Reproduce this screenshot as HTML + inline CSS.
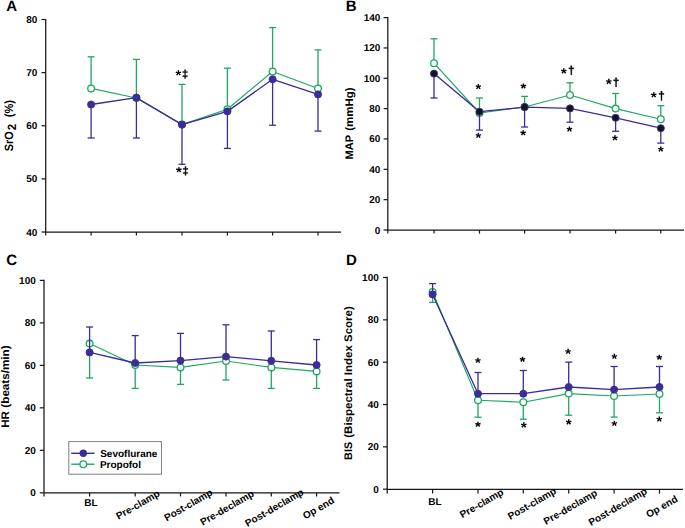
<!DOCTYPE html>
<html><head><meta charset="utf-8"><style>
html,body{margin:0;padding:0;background:#fff;width:685px;height:528px;overflow:hidden}
svg{display:block}
text{font-family:"Liberation Sans",sans-serif;font-weight:bold;text-rendering:geometricPrecision}
</style></head><body>
<svg width="685" height="528" viewBox="0 0 685 528" fill="#000">
<rect width="685" height="528" fill="#fff"/>
<text x='6.20' y='10.70' font-size='15' text-anchor='start' >A</text>
<text x='345.80' y='10.70' font-size='15' text-anchor='start' >B</text>
<text x='6.20' y='265.30' font-size='15' text-anchor='start' >C</text>
<text x='346.00' y='265.30' font-size='15' text-anchor='start' >D</text>
<line x1='45.70' y1='18.90' x2='45.70' y2='232.00' stroke='#161616' stroke-width='1.25' stroke-linecap='butt'/>
<line x1='45.10' y1='232.00' x2='341.00' y2='232.00' stroke='#161616' stroke-width='1.25' stroke-linecap='butt'/>
<line x1='41.50' y1='19.50' x2='45.70' y2='19.50' stroke='#161616' stroke-width='1.2' stroke-linecap='butt'/>
<text x='37.27' y='23.00' font-size='10' text-anchor='end' >80</text>
<line x1='41.50' y1='72.62' x2='45.70' y2='72.62' stroke='#161616' stroke-width='1.2' stroke-linecap='butt'/>
<text x='37.27' y='76.12' font-size='10' text-anchor='end' >70</text>
<line x1='41.50' y1='125.75' x2='45.70' y2='125.75' stroke='#161616' stroke-width='1.2' stroke-linecap='butt'/>
<text x='37.27' y='129.25' font-size='10' text-anchor='end' >60</text>
<line x1='41.50' y1='178.88' x2='45.70' y2='178.88' stroke='#161616' stroke-width='1.2' stroke-linecap='butt'/>
<text x='37.27' y='182.38' font-size='10' text-anchor='end' >50</text>
<line x1='41.50' y1='232.00' x2='45.70' y2='232.00' stroke='#161616' stroke-width='1.2' stroke-linecap='butt'/>
<text x='37.27' y='235.50' font-size='10' text-anchor='end' >40</text>
<line x1='45.70' y1='232.00' x2='45.70' y2='235.60' stroke='#161616' stroke-width='1.2' stroke-linecap='butt'/>
<line x1='91.10' y1='232.00' x2='91.10' y2='235.60' stroke='#161616' stroke-width='1.2' stroke-linecap='butt'/>
<line x1='136.40' y1='232.00' x2='136.40' y2='235.60' stroke='#161616' stroke-width='1.2' stroke-linecap='butt'/>
<line x1='182.00' y1='232.00' x2='182.00' y2='235.60' stroke='#161616' stroke-width='1.2' stroke-linecap='butt'/>
<line x1='227.40' y1='232.00' x2='227.40' y2='235.60' stroke='#161616' stroke-width='1.2' stroke-linecap='butt'/>
<line x1='272.60' y1='232.00' x2='272.60' y2='235.60' stroke='#161616' stroke-width='1.2' stroke-linecap='butt'/>
<line x1='318.00' y1='232.00' x2='318.00' y2='235.60' stroke='#161616' stroke-width='1.2' stroke-linecap='butt'/>
<polyline points='91.10,88.40 136.40,98.00 182.00,124.60 227.40,109.20 272.60,71.50 318.00,88.50' fill='none' stroke='#1fa862' stroke-width='1.15' stroke-linejoin='round'/>
<line x1='91.10' y1='88.40' x2='91.10' y2='56.80' stroke='#1fa862' stroke-width='1.3' stroke-linecap='butt'/>
<line x1='87.60' y1='56.80' x2='94.60' y2='56.80' stroke='#1fa862' stroke-width='1.3' stroke-linecap='butt'/>
<line x1='136.40' y1='98.00' x2='136.40' y2='59.40' stroke='#1fa862' stroke-width='1.3' stroke-linecap='butt'/>
<line x1='132.90' y1='59.40' x2='139.90' y2='59.40' stroke='#1fa862' stroke-width='1.3' stroke-linecap='butt'/>
<line x1='182.00' y1='124.60' x2='182.00' y2='84.40' stroke='#1fa862' stroke-width='1.3' stroke-linecap='butt'/>
<line x1='178.50' y1='84.40' x2='185.50' y2='84.40' stroke='#1fa862' stroke-width='1.3' stroke-linecap='butt'/>
<line x1='227.40' y1='109.20' x2='227.40' y2='68.20' stroke='#1fa862' stroke-width='1.3' stroke-linecap='butt'/>
<line x1='223.90' y1='68.20' x2='230.90' y2='68.20' stroke='#1fa862' stroke-width='1.3' stroke-linecap='butt'/>
<line x1='272.60' y1='71.50' x2='272.60' y2='27.60' stroke='#1fa862' stroke-width='1.3' stroke-linecap='butt'/>
<line x1='269.10' y1='27.60' x2='276.10' y2='27.60' stroke='#1fa862' stroke-width='1.3' stroke-linecap='butt'/>
<line x1='318.00' y1='88.50' x2='318.00' y2='49.90' stroke='#1fa862' stroke-width='1.3' stroke-linecap='butt'/>
<line x1='314.50' y1='49.90' x2='321.50' y2='49.90' stroke='#1fa862' stroke-width='1.3' stroke-linecap='butt'/>
<circle cx='91.10' cy='88.40' r='3.35' fill='#fff' stroke='#1fa862' stroke-width='1.3'/>
<circle cx='136.40' cy='98.00' r='3.35' fill='#fff' stroke='#1fa862' stroke-width='1.3'/>
<circle cx='182.00' cy='124.60' r='3.35' fill='#fff' stroke='#1fa862' stroke-width='1.3'/>
<circle cx='227.40' cy='109.20' r='3.35' fill='#fff' stroke='#1fa862' stroke-width='1.3'/>
<circle cx='272.60' cy='71.50' r='3.35' fill='#fff' stroke='#1fa862' stroke-width='1.3'/>
<circle cx='318.00' cy='88.50' r='3.35' fill='#fff' stroke='#1fa862' stroke-width='1.3'/>
<polyline points='91.10,104.50 136.40,97.60 182.00,124.60 227.40,111.40 272.60,79.30 318.00,94.40' fill='none' stroke='#3b2c96' stroke-width='1.3' stroke-linejoin='round'/>
<line x1='91.10' y1='104.50' x2='91.10' y2='138.00' stroke='#3b2c96' stroke-width='1.3' stroke-linecap='butt'/>
<line x1='87.60' y1='138.00' x2='94.60' y2='138.00' stroke='#3b2c96' stroke-width='1.3' stroke-linecap='butt'/>
<line x1='136.40' y1='97.60' x2='136.40' y2='138.00' stroke='#3b2c96' stroke-width='1.3' stroke-linecap='butt'/>
<line x1='132.90' y1='138.00' x2='139.90' y2='138.00' stroke='#3b2c96' stroke-width='1.3' stroke-linecap='butt'/>
<line x1='182.00' y1='124.60' x2='182.00' y2='164.30' stroke='#3b2c96' stroke-width='1.3' stroke-linecap='butt'/>
<line x1='178.50' y1='164.30' x2='185.50' y2='164.30' stroke='#3b2c96' stroke-width='1.3' stroke-linecap='butt'/>
<line x1='227.40' y1='111.40' x2='227.40' y2='148.40' stroke='#3b2c96' stroke-width='1.3' stroke-linecap='butt'/>
<line x1='223.90' y1='148.40' x2='230.90' y2='148.40' stroke='#3b2c96' stroke-width='1.3' stroke-linecap='butt'/>
<line x1='272.60' y1='79.30' x2='272.60' y2='125.20' stroke='#3b2c96' stroke-width='1.3' stroke-linecap='butt'/>
<line x1='269.10' y1='125.20' x2='276.10' y2='125.20' stroke='#3b2c96' stroke-width='1.3' stroke-linecap='butt'/>
<line x1='318.00' y1='94.40' x2='318.00' y2='131.10' stroke='#3b2c96' stroke-width='1.3' stroke-linecap='butt'/>
<line x1='314.50' y1='131.10' x2='321.50' y2='131.10' stroke='#3b2c96' stroke-width='1.3' stroke-linecap='butt'/>
<circle cx='91.10' cy='104.50' r='3.55' fill='#3b2c96' stroke='#3b2c96' stroke-width='0.9'/>
<circle cx='136.40' cy='97.60' r='3.55' fill='#3b2c96' stroke='#3b2c96' stroke-width='0.9'/>
<circle cx='182.00' cy='124.60' r='3.55' fill='#3b2c96' stroke='#3b2c96' stroke-width='0.9'/>
<circle cx='227.40' cy='111.40' r='3.55' fill='#3b2c96' stroke='#3b2c96' stroke-width='0.9'/>
<circle cx='272.60' cy='79.30' r='3.55' fill='#3b2c96' stroke='#3b2c96' stroke-width='0.9'/>
<circle cx='318.00' cy='94.40' r='3.55' fill='#3b2c96' stroke='#3b2c96' stroke-width='0.9'/>
<path d='M492 1135 727 1239 795 1042 545 981 731 768 547 647 401 899 252 647 66 770 256 981 6 1042 74 1239 313 1135 295 1409H510Z' transform='translate(178.40 72.90) scale(0.007324 -0.006982) translate(-400.5 -1028)'/>
<path d='M478 980 137 953V1157L478 1128L462 1484H677L661 1128L1002 1157V953L661 980L635 670L661 363L1001 390V186L661 215L677 -141H462L478 215L136 186V390L478 363L504 670Z' stroke='#000' stroke-width='70' stroke-linejoin='round' transform='translate(185.10 74.10) scale(0.005371 -0.005371) translate(-569 -671.5)'/>
<path d='M492 1135 727 1239 795 1042 545 981 731 768 547 647 401 899 252 647 66 770 256 981 6 1042 74 1239 313 1135 295 1409H510Z' transform='translate(178.90 169.80) scale(0.007324 -0.006982) translate(-400.5 -1028)'/>
<path d='M478 980 137 953V1157L478 1128L462 1484H677L661 1128L1002 1157V953L661 980L635 670L661 363L1001 390V186L661 215L677 -141H462L478 215L136 186V390L478 363L504 670Z' stroke='#000' stroke-width='70' stroke-linejoin='round' transform='translate(185.50 170.90) scale(0.005371 -0.005371) translate(-569 -671.5)'/>
<text x='-0.38' y='0' font-size='12' transform='translate(12.70 150.90) rotate(-90) scale(0.9091 1)'>SrO</text>
<text x='-0.38' y='0' font-size='12' transform='translate(16.00 129.90) rotate(-90) scale(0.9524 1)'>2</text>
<text x='-0.62' y='0' font-size='12' transform='translate(12.50 116.70) rotate(-90) scale(0.9206 1)'>(%)</text>
<line x1='387.80' y1='17.00' x2='387.80' y2='230.00' stroke='#161616' stroke-width='1.25' stroke-linecap='butt'/>
<line x1='387.20' y1='230.00' x2='684.00' y2='230.00' stroke='#161616' stroke-width='1.25' stroke-linecap='butt'/>
<line x1='383.60' y1='17.61' x2='387.80' y2='17.61' stroke='#161616' stroke-width='1.2' stroke-linecap='butt'/>
<text x='380.37' y='21.11' font-size='10' text-anchor='end' >140</text>
<line x1='383.60' y1='47.95' x2='387.80' y2='47.95' stroke='#161616' stroke-width='1.2' stroke-linecap='butt'/>
<text x='380.37' y='51.45' font-size='10' text-anchor='end' >120</text>
<line x1='383.60' y1='78.29' x2='387.80' y2='78.29' stroke='#161616' stroke-width='1.2' stroke-linecap='butt'/>
<text x='380.37' y='81.79' font-size='10' text-anchor='end' >100</text>
<line x1='383.60' y1='108.63' x2='387.80' y2='108.63' stroke='#161616' stroke-width='1.2' stroke-linecap='butt'/>
<text x='380.37' y='112.13' font-size='10' text-anchor='end' >80</text>
<line x1='383.60' y1='138.97' x2='387.80' y2='138.97' stroke='#161616' stroke-width='1.2' stroke-linecap='butt'/>
<text x='380.37' y='142.47' font-size='10' text-anchor='end' >60</text>
<line x1='383.60' y1='169.32' x2='387.80' y2='169.32' stroke='#161616' stroke-width='1.2' stroke-linecap='butt'/>
<text x='380.37' y='172.82' font-size='10' text-anchor='end' >40</text>
<line x1='383.60' y1='199.66' x2='387.80' y2='199.66' stroke='#161616' stroke-width='1.2' stroke-linecap='butt'/>
<text x='380.37' y='203.16' font-size='10' text-anchor='end' >20</text>
<line x1='383.60' y1='230.00' x2='387.80' y2='230.00' stroke='#161616' stroke-width='1.2' stroke-linecap='butt'/>
<text x='380.37' y='233.50' font-size='10' text-anchor='end' >0</text>
<line x1='387.80' y1='230.00' x2='387.80' y2='233.60' stroke='#161616' stroke-width='1.2' stroke-linecap='butt'/>
<line x1='434.00' y1='230.00' x2='434.00' y2='233.60' stroke='#161616' stroke-width='1.2' stroke-linecap='butt'/>
<line x1='479.50' y1='230.00' x2='479.50' y2='233.60' stroke='#161616' stroke-width='1.2' stroke-linecap='butt'/>
<line x1='524.60' y1='230.00' x2='524.60' y2='233.60' stroke='#161616' stroke-width='1.2' stroke-linecap='butt'/>
<line x1='570.00' y1='230.00' x2='570.00' y2='233.60' stroke='#161616' stroke-width='1.2' stroke-linecap='butt'/>
<line x1='615.60' y1='230.00' x2='615.60' y2='233.60' stroke='#161616' stroke-width='1.2' stroke-linecap='butt'/>
<line x1='660.80' y1='230.00' x2='660.80' y2='233.60' stroke='#161616' stroke-width='1.2' stroke-linecap='butt'/>
<polyline points='434.00,63.20 479.50,113.00 524.60,107.00 570.00,95.00 615.60,108.60 660.80,119.20' fill='none' stroke='#1fa862' stroke-width='1.15' stroke-linejoin='round'/>
<line x1='434.00' y1='63.20' x2='434.00' y2='38.80' stroke='#1fa862' stroke-width='1.3' stroke-linecap='butt'/>
<line x1='430.50' y1='38.80' x2='437.50' y2='38.80' stroke='#1fa862' stroke-width='1.3' stroke-linecap='butt'/>
<line x1='479.50' y1='113.00' x2='479.50' y2='98.00' stroke='#1fa862' stroke-width='1.3' stroke-linecap='butt'/>
<line x1='476.00' y1='98.00' x2='483.00' y2='98.00' stroke='#1fa862' stroke-width='1.3' stroke-linecap='butt'/>
<line x1='524.60' y1='107.00' x2='524.60' y2='96.40' stroke='#1fa862' stroke-width='1.3' stroke-linecap='butt'/>
<line x1='521.10' y1='96.40' x2='528.10' y2='96.40' stroke='#1fa862' stroke-width='1.3' stroke-linecap='butt'/>
<line x1='570.00' y1='95.00' x2='570.00' y2='82.80' stroke='#1fa862' stroke-width='1.3' stroke-linecap='butt'/>
<line x1='566.50' y1='82.80' x2='573.50' y2='82.80' stroke='#1fa862' stroke-width='1.3' stroke-linecap='butt'/>
<line x1='615.60' y1='108.60' x2='615.60' y2='93.50' stroke='#1fa862' stroke-width='1.3' stroke-linecap='butt'/>
<line x1='612.10' y1='93.50' x2='619.10' y2='93.50' stroke='#1fa862' stroke-width='1.3' stroke-linecap='butt'/>
<line x1='660.80' y1='119.20' x2='660.80' y2='105.70' stroke='#1fa862' stroke-width='1.3' stroke-linecap='butt'/>
<line x1='657.30' y1='105.70' x2='664.30' y2='105.70' stroke='#1fa862' stroke-width='1.3' stroke-linecap='butt'/>
<circle cx='434.00' cy='63.20' r='3.35' fill='#fff' stroke='#1fa862' stroke-width='1.3'/>
<circle cx='479.50' cy='113.00' r='3.35' fill='#fff' stroke='#1fa862' stroke-width='1.3'/>
<circle cx='524.60' cy='107.00' r='3.35' fill='#fff' stroke='#1fa862' stroke-width='1.3'/>
<circle cx='570.00' cy='95.00' r='3.35' fill='#fff' stroke='#1fa862' stroke-width='1.3'/>
<circle cx='615.60' cy='108.60' r='3.35' fill='#fff' stroke='#1fa862' stroke-width='1.3'/>
<circle cx='660.80' cy='119.20' r='3.35' fill='#fff' stroke='#1fa862' stroke-width='1.3'/>
<polyline points='434.00,73.60 479.50,111.70 524.60,107.10 570.00,108.40 615.60,117.80 660.80,128.20' fill='none' stroke='#3b2c96' stroke-width='1.3' stroke-linejoin='round'/>
<line x1='434.00' y1='73.60' x2='434.00' y2='98.00' stroke='#3b2c96' stroke-width='1.3' stroke-linecap='butt'/>
<line x1='430.50' y1='98.00' x2='437.50' y2='98.00' stroke='#3b2c96' stroke-width='1.3' stroke-linecap='butt'/>
<line x1='479.50' y1='111.70' x2='479.50' y2='130.10' stroke='#3b2c96' stroke-width='1.3' stroke-linecap='butt'/>
<line x1='476.00' y1='130.10' x2='483.00' y2='130.10' stroke='#3b2c96' stroke-width='1.3' stroke-linecap='butt'/>
<line x1='524.60' y1='107.10' x2='524.60' y2='127.00' stroke='#3b2c96' stroke-width='1.3' stroke-linecap='butt'/>
<line x1='521.10' y1='127.00' x2='528.10' y2='127.00' stroke='#3b2c96' stroke-width='1.3' stroke-linecap='butt'/>
<line x1='570.00' y1='108.40' x2='570.00' y2='122.20' stroke='#3b2c96' stroke-width='1.3' stroke-linecap='butt'/>
<line x1='566.50' y1='122.20' x2='573.50' y2='122.20' stroke='#3b2c96' stroke-width='1.3' stroke-linecap='butt'/>
<line x1='615.60' y1='117.80' x2='615.60' y2='131.30' stroke='#3b2c96' stroke-width='1.3' stroke-linecap='butt'/>
<line x1='612.10' y1='131.30' x2='619.10' y2='131.30' stroke='#3b2c96' stroke-width='1.3' stroke-linecap='butt'/>
<line x1='660.80' y1='128.20' x2='660.80' y2='143.10' stroke='#3b2c96' stroke-width='1.3' stroke-linecap='butt'/>
<line x1='657.30' y1='143.10' x2='664.30' y2='143.10' stroke='#3b2c96' stroke-width='1.3' stroke-linecap='butt'/>
<circle cx='434.00' cy='73.60' r='3.55' fill='#141414' stroke='#3b2c96' stroke-width='0.9'/>
<circle cx='479.50' cy='111.70' r='3.55' fill='#141414' stroke='#3b2c96' stroke-width='0.9'/>
<circle cx='524.60' cy='107.10' r='3.55' fill='#141414' stroke='#3b2c96' stroke-width='0.9'/>
<circle cx='570.00' cy='108.40' r='3.55' fill='#141414' stroke='#3b2c96' stroke-width='0.9'/>
<circle cx='615.60' cy='117.80' r='3.55' fill='#141414' stroke='#3b2c96' stroke-width='0.9'/>
<circle cx='660.80' cy='128.20' r='3.55' fill='#141414' stroke='#3b2c96' stroke-width='0.9'/>
<text x='-0.75' y='0' font-size='11' transform='translate(353.10 158.70) rotate(-90) scale(1.0022 1)'>MAP</text>
<text x='-0.50' y='0' font-size='11' transform='translate(353.20 130.30) rotate(-90) scale(1.0420 1)'>(mmHg)</text>
<path d='M492 1135 727 1239 795 1042 545 981 731 768 547 647 401 899 252 647 66 770 256 981 6 1042 74 1239 313 1135 295 1409H510Z' transform='translate(478.35 86.60) scale(0.007324 -0.006982) translate(-400.5 -1028)'/>
<path d='M492 1135 727 1239 795 1042 545 981 731 768 547 647 401 899 252 647 66 770 256 981 6 1042 74 1239 313 1135 295 1409H510Z' transform='translate(478.36 135.45) scale(0.007324 -0.006982) translate(-400.5 -1028)'/>
<path d='M492 1135 727 1239 795 1042 545 981 731 768 547 647 401 899 252 647 66 770 256 981 6 1042 74 1239 313 1135 295 1409H510Z' transform='translate(523.40 86.05) scale(0.007324 -0.006982) translate(-400.5 -1028)'/>
<path d='M492 1135 727 1239 795 1042 545 981 731 768 547 647 401 899 252 647 66 770 256 981 6 1042 74 1239 313 1135 295 1409H510Z' transform='translate(523.15 132.80) scale(0.007324 -0.006982) translate(-400.5 -1028)'/>
<path d='M492 1135 727 1239 795 1042 545 981 731 768 547 647 401 899 252 647 66 770 256 981 6 1042 74 1239 313 1135 295 1409H510Z' transform='translate(569.45 129.10) scale(0.007324 -0.006982) translate(-400.5 -1028)'/>
<path d='M492 1135 727 1239 795 1042 545 981 731 768 547 647 401 899 252 647 66 770 256 981 6 1042 74 1239 313 1135 295 1409H510Z' transform='translate(614.97 137.85) scale(0.007324 -0.006982) translate(-400.5 -1028)'/>
<path d='M492 1135 727 1239 795 1042 545 981 731 768 547 647 401 899 252 647 66 770 256 981 6 1042 74 1239 313 1135 295 1409H510Z' transform='translate(660.80 149.20) scale(0.007324 -0.006982) translate(-400.5 -1028)'/>
<path d='M492 1135 727 1239 795 1042 545 981 731 768 547 647 401 899 252 647 66 770 256 981 6 1042 74 1239 313 1135 295 1409H510Z' transform='translate(563.85 71.00) scale(0.007324 -0.006982) translate(-400.5 -1028)'/>
<path d='M669 960 647 -138H492L470 960L138 933V1137L470 1108L442 1484H697L669 1108L1002 1137V933Z' stroke='#000' stroke-width='70' stroke-linejoin='round' transform='translate(571.30 70.35) scale(0.005615 -0.005615) translate(-570 -673)'/>
<path d='M492 1135 727 1239 795 1042 545 981 731 768 547 647 401 899 252 647 66 770 256 981 6 1042 74 1239 313 1135 295 1409H510Z' transform='translate(608.83 81.50) scale(0.007324 -0.006982) translate(-400.5 -1028)'/>
<path d='M669 960 647 -138H492L470 960L138 933V1137L470 1108L442 1484H697L669 1108L1002 1137V933Z' stroke='#000' stroke-width='70' stroke-linejoin='round' transform='translate(616.07 82.36) scale(0.005615 -0.005615) translate(-570 -673)'/>
<path d='M492 1135 727 1239 795 1042 545 981 731 768 547 647 401 899 252 647 66 770 256 981 6 1042 74 1239 313 1135 295 1409H510Z' transform='translate(653.83 94.85) scale(0.007324 -0.006982) translate(-400.5 -1028)'/>
<path d='M669 960 647 -138H492L470 960L138 933V1137L470 1108L442 1484H697L669 1108L1002 1137V933Z' stroke='#000' stroke-width='70' stroke-linejoin='round' transform='translate(661.50 95.90) scale(0.005615 -0.005615) translate(-570 -673)'/>
<line x1='44.00' y1='279.80' x2='44.00' y2='492.80' stroke='#161616' stroke-width='1.25' stroke-linecap='butt'/>
<line x1='43.40' y1='492.80' x2='339.60' y2='492.80' stroke='#161616' stroke-width='1.25' stroke-linecap='butt'/>
<line x1='39.80' y1='280.40' x2='44.00' y2='280.40' stroke='#161616' stroke-width='1.2' stroke-linecap='butt'/>
<text x='35.77' y='283.90' font-size='10' text-anchor='end' >100</text>
<line x1='39.80' y1='322.88' x2='44.00' y2='322.88' stroke='#161616' stroke-width='1.2' stroke-linecap='butt'/>
<text x='35.77' y='326.38' font-size='10' text-anchor='end' >80</text>
<line x1='39.80' y1='365.36' x2='44.00' y2='365.36' stroke='#161616' stroke-width='1.2' stroke-linecap='butt'/>
<text x='35.77' y='368.86' font-size='10' text-anchor='end' >60</text>
<line x1='39.80' y1='407.84' x2='44.00' y2='407.84' stroke='#161616' stroke-width='1.2' stroke-linecap='butt'/>
<text x='35.77' y='411.34' font-size='10' text-anchor='end' >40</text>
<line x1='39.80' y1='450.32' x2='44.00' y2='450.32' stroke='#161616' stroke-width='1.2' stroke-linecap='butt'/>
<text x='35.77' y='453.82' font-size='10' text-anchor='end' >20</text>
<line x1='39.80' y1='492.80' x2='44.00' y2='492.80' stroke='#161616' stroke-width='1.2' stroke-linecap='butt'/>
<text x='35.77' y='496.30' font-size='10' text-anchor='end' >0</text>
<line x1='44.00' y1='492.80' x2='44.00' y2='496.40' stroke='#161616' stroke-width='1.2' stroke-linecap='butt'/>
<line x1='89.60' y1='492.80' x2='89.60' y2='496.40' stroke='#161616' stroke-width='1.2' stroke-linecap='butt'/>
<line x1='135.20' y1='492.80' x2='135.20' y2='496.40' stroke='#161616' stroke-width='1.2' stroke-linecap='butt'/>
<line x1='180.50' y1='492.80' x2='180.50' y2='496.40' stroke='#161616' stroke-width='1.2' stroke-linecap='butt'/>
<line x1='226.00' y1='492.80' x2='226.00' y2='496.40' stroke='#161616' stroke-width='1.2' stroke-linecap='butt'/>
<line x1='271.30' y1='492.80' x2='271.30' y2='496.40' stroke='#161616' stroke-width='1.2' stroke-linecap='butt'/>
<line x1='316.60' y1='492.80' x2='316.60' y2='496.40' stroke='#161616' stroke-width='1.2' stroke-linecap='butt'/>
<polyline points='89.60,343.60 135.20,365.00 180.50,367.40 226.00,361.00 271.30,367.40 316.60,371.40' fill='none' stroke='#1fa862' stroke-width='1.15' stroke-linejoin='round'/>
<line x1='89.60' y1='343.60' x2='89.60' y2='378.00' stroke='#1fa862' stroke-width='1.3' stroke-linecap='butt'/>
<line x1='86.10' y1='378.00' x2='93.10' y2='378.00' stroke='#1fa862' stroke-width='1.3' stroke-linecap='butt'/>
<line x1='135.20' y1='365.00' x2='135.20' y2='388.40' stroke='#1fa862' stroke-width='1.3' stroke-linecap='butt'/>
<line x1='131.70' y1='388.40' x2='138.70' y2='388.40' stroke='#1fa862' stroke-width='1.3' stroke-linecap='butt'/>
<line x1='180.50' y1='367.40' x2='180.50' y2='384.40' stroke='#1fa862' stroke-width='1.3' stroke-linecap='butt'/>
<line x1='177.00' y1='384.40' x2='184.00' y2='384.40' stroke='#1fa862' stroke-width='1.3' stroke-linecap='butt'/>
<line x1='226.00' y1='361.00' x2='226.00' y2='380.00' stroke='#1fa862' stroke-width='1.3' stroke-linecap='butt'/>
<line x1='222.50' y1='380.00' x2='229.50' y2='380.00' stroke='#1fa862' stroke-width='1.3' stroke-linecap='butt'/>
<line x1='271.30' y1='367.40' x2='271.30' y2='388.40' stroke='#1fa862' stroke-width='1.3' stroke-linecap='butt'/>
<line x1='267.80' y1='388.40' x2='274.80' y2='388.40' stroke='#1fa862' stroke-width='1.3' stroke-linecap='butt'/>
<line x1='316.60' y1='371.40' x2='316.60' y2='388.40' stroke='#1fa862' stroke-width='1.3' stroke-linecap='butt'/>
<line x1='313.10' y1='388.40' x2='320.10' y2='388.40' stroke='#1fa862' stroke-width='1.3' stroke-linecap='butt'/>
<circle cx='89.60' cy='343.60' r='3.35' fill='#fff' stroke='#1fa862' stroke-width='1.3'/>
<circle cx='135.20' cy='365.00' r='3.35' fill='#fff' stroke='#1fa862' stroke-width='1.3'/>
<circle cx='180.50' cy='367.40' r='3.35' fill='#fff' stroke='#1fa862' stroke-width='1.3'/>
<circle cx='226.00' cy='361.00' r='3.35' fill='#fff' stroke='#1fa862' stroke-width='1.3'/>
<circle cx='271.30' cy='367.40' r='3.35' fill='#fff' stroke='#1fa862' stroke-width='1.3'/>
<circle cx='316.60' cy='371.40' r='3.35' fill='#fff' stroke='#1fa862' stroke-width='1.3'/>
<polyline points='89.60,352.40 135.20,363.00 180.50,360.60 226.00,356.60 271.30,360.80 316.60,365.00' fill='none' stroke='#3b2c96' stroke-width='1.3' stroke-linejoin='round'/>
<line x1='89.60' y1='352.40' x2='89.60' y2='327.00' stroke='#3b2c96' stroke-width='1.3' stroke-linecap='butt'/>
<line x1='86.10' y1='327.00' x2='93.10' y2='327.00' stroke='#3b2c96' stroke-width='1.3' stroke-linecap='butt'/>
<line x1='135.20' y1='363.00' x2='135.20' y2='335.60' stroke='#3b2c96' stroke-width='1.3' stroke-linecap='butt'/>
<line x1='131.70' y1='335.60' x2='138.70' y2='335.60' stroke='#3b2c96' stroke-width='1.3' stroke-linecap='butt'/>
<line x1='180.50' y1='360.60' x2='180.50' y2='333.40' stroke='#3b2c96' stroke-width='1.3' stroke-linecap='butt'/>
<line x1='177.00' y1='333.40' x2='184.00' y2='333.40' stroke='#3b2c96' stroke-width='1.3' stroke-linecap='butt'/>
<line x1='226.00' y1='356.60' x2='226.00' y2='324.80' stroke='#3b2c96' stroke-width='1.3' stroke-linecap='butt'/>
<line x1='222.50' y1='324.80' x2='229.50' y2='324.80' stroke='#3b2c96' stroke-width='1.3' stroke-linecap='butt'/>
<line x1='271.30' y1='360.80' x2='271.30' y2='331.00' stroke='#3b2c96' stroke-width='1.3' stroke-linecap='butt'/>
<line x1='267.80' y1='331.00' x2='274.80' y2='331.00' stroke='#3b2c96' stroke-width='1.3' stroke-linecap='butt'/>
<line x1='316.60' y1='365.00' x2='316.60' y2='339.60' stroke='#3b2c96' stroke-width='1.3' stroke-linecap='butt'/>
<line x1='313.10' y1='339.60' x2='320.10' y2='339.60' stroke='#3b2c96' stroke-width='1.3' stroke-linecap='butt'/>
<circle cx='89.60' cy='352.40' r='3.55' fill='#3b2c96' stroke='#3b2c96' stroke-width='0.9'/>
<circle cx='135.20' cy='363.00' r='3.55' fill='#3b2c96' stroke='#3b2c96' stroke-width='0.9'/>
<circle cx='180.50' cy='360.60' r='3.55' fill='#3b2c96' stroke='#3b2c96' stroke-width='0.9'/>
<circle cx='226.00' cy='356.60' r='3.55' fill='#3b2c96' stroke='#3b2c96' stroke-width='0.9'/>
<circle cx='271.30' cy='360.80' r='3.55' fill='#3b2c96' stroke='#3b2c96' stroke-width='0.9'/>
<circle cx='316.60' cy='365.00' r='3.55' fill='#3b2c96' stroke='#3b2c96' stroke-width='0.9'/>
<text x='-0.75' y='0' font-size='11' transform='translate(8.90 427.00) rotate(-90) scale(1.0484 1)'>HR</text>
<text x='-0.50' y='0' font-size='11' transform='translate(8.80 407.10) rotate(-90) scale(1.0604 1)'>(beats/min)</text>
<line x1='387.20' y1='276.80' x2='387.20' y2='489.40' stroke='#161616' stroke-width='1.25' stroke-linecap='butt'/>
<line x1='386.60' y1='489.40' x2='683.00' y2='489.40' stroke='#161616' stroke-width='1.25' stroke-linecap='butt'/>
<line x1='383.00' y1='277.50' x2='387.20' y2='277.50' stroke='#161616' stroke-width='1.2' stroke-linecap='butt'/>
<text x='378.77' y='281.00' font-size='10' text-anchor='end' >100</text>
<line x1='383.00' y1='319.84' x2='387.20' y2='319.84' stroke='#161616' stroke-width='1.2' stroke-linecap='butt'/>
<text x='378.77' y='323.34' font-size='10' text-anchor='end' >80</text>
<line x1='383.00' y1='362.18' x2='387.20' y2='362.18' stroke='#161616' stroke-width='1.2' stroke-linecap='butt'/>
<text x='378.77' y='365.68' font-size='10' text-anchor='end' >60</text>
<line x1='383.00' y1='404.52' x2='387.20' y2='404.52' stroke='#161616' stroke-width='1.2' stroke-linecap='butt'/>
<text x='378.77' y='408.02' font-size='10' text-anchor='end' >40</text>
<line x1='383.00' y1='446.86' x2='387.20' y2='446.86' stroke='#161616' stroke-width='1.2' stroke-linecap='butt'/>
<text x='378.77' y='450.36' font-size='10' text-anchor='end' >20</text>
<line x1='383.00' y1='489.20' x2='387.20' y2='489.20' stroke='#161616' stroke-width='1.2' stroke-linecap='butt'/>
<text x='378.77' y='492.70' font-size='10' text-anchor='end' >0</text>
<line x1='387.20' y1='489.40' x2='387.20' y2='493.60' stroke='#161616' stroke-width='1.2' stroke-linecap='butt'/>
<line x1='432.60' y1='489.40' x2='432.60' y2='493.60' stroke='#161616' stroke-width='1.2' stroke-linecap='butt'/>
<line x1='478.00' y1='489.40' x2='478.00' y2='493.60' stroke='#161616' stroke-width='1.2' stroke-linecap='butt'/>
<line x1='523.30' y1='489.40' x2='523.30' y2='493.60' stroke='#161616' stroke-width='1.2' stroke-linecap='butt'/>
<line x1='568.70' y1='489.40' x2='568.70' y2='493.60' stroke='#161616' stroke-width='1.2' stroke-linecap='butt'/>
<line x1='614.10' y1='489.40' x2='614.10' y2='493.60' stroke='#161616' stroke-width='1.2' stroke-linecap='butt'/>
<line x1='659.50' y1='489.40' x2='659.50' y2='493.60' stroke='#161616' stroke-width='1.2' stroke-linecap='butt'/>
<polyline points='432.60,292.00 478.00,400.30 523.30,402.20 568.70,393.60 614.10,396.00 659.50,394.00' fill='none' stroke='#1fa862' stroke-width='1.15' stroke-linejoin='round'/>
<line x1='432.60' y1='292.00' x2='432.60' y2='302.40' stroke='#1fa862' stroke-width='1.3' stroke-linecap='butt'/>
<line x1='429.10' y1='302.40' x2='436.10' y2='302.40' stroke='#1fa862' stroke-width='1.3' stroke-linecap='butt'/>
<line x1='478.00' y1='400.30' x2='478.00' y2='417.20' stroke='#1fa862' stroke-width='1.3' stroke-linecap='butt'/>
<line x1='474.50' y1='417.20' x2='481.50' y2='417.20' stroke='#1fa862' stroke-width='1.3' stroke-linecap='butt'/>
<line x1='523.30' y1='402.20' x2='523.30' y2='419.20' stroke='#1fa862' stroke-width='1.3' stroke-linecap='butt'/>
<line x1='519.80' y1='419.20' x2='526.80' y2='419.20' stroke='#1fa862' stroke-width='1.3' stroke-linecap='butt'/>
<line x1='568.70' y1='393.60' x2='568.70' y2='415.20' stroke='#1fa862' stroke-width='1.3' stroke-linecap='butt'/>
<line x1='565.20' y1='415.20' x2='572.20' y2='415.20' stroke='#1fa862' stroke-width='1.3' stroke-linecap='butt'/>
<line x1='614.10' y1='396.00' x2='614.10' y2='417.10' stroke='#1fa862' stroke-width='1.3' stroke-linecap='butt'/>
<line x1='610.60' y1='417.10' x2='617.60' y2='417.10' stroke='#1fa862' stroke-width='1.3' stroke-linecap='butt'/>
<line x1='659.50' y1='394.00' x2='659.50' y2='412.80' stroke='#1fa862' stroke-width='1.3' stroke-linecap='butt'/>
<line x1='656.00' y1='412.80' x2='663.00' y2='412.80' stroke='#1fa862' stroke-width='1.3' stroke-linecap='butt'/>
<circle cx='432.60' cy='292.00' r='3.35' fill='#fff' stroke='#1fa862' stroke-width='1.3'/>
<circle cx='478.00' cy='400.30' r='3.35' fill='#fff' stroke='#1fa862' stroke-width='1.3'/>
<circle cx='523.30' cy='402.20' r='3.35' fill='#fff' stroke='#1fa862' stroke-width='1.3'/>
<circle cx='568.70' cy='393.60' r='3.35' fill='#fff' stroke='#1fa862' stroke-width='1.3'/>
<circle cx='614.10' cy='396.00' r='3.35' fill='#fff' stroke='#1fa862' stroke-width='1.3'/>
<circle cx='659.50' cy='394.00' r='3.35' fill='#fff' stroke='#1fa862' stroke-width='1.3'/>
<polyline points='432.60,294.40 478.00,393.70 523.30,393.70 568.70,387.00 614.10,389.60 659.50,387.00' fill='none' stroke='#3b2c96' stroke-width='1.3' stroke-linejoin='round'/>
<line x1='432.60' y1='294.40' x2='432.60' y2='283.60' stroke='#3b2c96' stroke-width='1.3' stroke-linecap='butt'/>
<line x1='429.10' y1='283.60' x2='436.10' y2='283.60' stroke='#3b2c96' stroke-width='1.3' stroke-linecap='butt'/>
<line x1='478.00' y1='393.70' x2='478.00' y2='372.50' stroke='#3b2c96' stroke-width='1.3' stroke-linecap='butt'/>
<line x1='474.50' y1='372.50' x2='481.50' y2='372.50' stroke='#3b2c96' stroke-width='1.3' stroke-linecap='butt'/>
<line x1='523.30' y1='393.70' x2='523.30' y2='370.50' stroke='#3b2c96' stroke-width='1.3' stroke-linecap='butt'/>
<line x1='519.80' y1='370.50' x2='526.80' y2='370.50' stroke='#3b2c96' stroke-width='1.3' stroke-linecap='butt'/>
<line x1='568.70' y1='387.00' x2='568.70' y2='362.10' stroke='#3b2c96' stroke-width='1.3' stroke-linecap='butt'/>
<line x1='565.20' y1='362.10' x2='572.20' y2='362.10' stroke='#3b2c96' stroke-width='1.3' stroke-linecap='butt'/>
<line x1='614.10' y1='389.60' x2='614.10' y2='366.50' stroke='#3b2c96' stroke-width='1.3' stroke-linecap='butt'/>
<line x1='610.60' y1='366.50' x2='617.60' y2='366.50' stroke='#3b2c96' stroke-width='1.3' stroke-linecap='butt'/>
<line x1='659.50' y1='387.00' x2='659.50' y2='366.50' stroke='#3b2c96' stroke-width='1.3' stroke-linecap='butt'/>
<line x1='656.00' y1='366.50' x2='663.00' y2='366.50' stroke='#3b2c96' stroke-width='1.3' stroke-linecap='butt'/>
<circle cx='432.60' cy='294.40' r='3.55' fill='#3b2c96' stroke='#3b2c96' stroke-width='0.9'/>
<circle cx='478.00' cy='393.70' r='3.55' fill='#3b2c96' stroke='#3b2c96' stroke-width='0.9'/>
<circle cx='523.30' cy='393.70' r='3.55' fill='#3b2c96' stroke='#3b2c96' stroke-width='0.9'/>
<circle cx='568.70' cy='387.00' r='3.55' fill='#3b2c96' stroke='#3b2c96' stroke-width='0.9'/>
<circle cx='614.10' cy='389.60' r='3.55' fill='#3b2c96' stroke='#3b2c96' stroke-width='0.9'/>
<circle cx='659.50' cy='387.00' r='3.55' fill='#3b2c96' stroke='#3b2c96' stroke-width='0.9'/>
<text x='-0.75' y='0' font-size='11' transform='translate(351.50 459.20) rotate(-90) scale(0.9871 1)'>BIS</text>
<text x='-0.50' y='0' font-size='11' transform='translate(351.70 437.20) rotate(-90) scale(1.0442 1)'>(Bispectral Index Score)</text>
<path d='M492 1135 727 1239 795 1042 545 981 731 768 547 647 401 899 252 647 66 770 256 981 6 1042 74 1239 313 1135 295 1409H510Z' transform='translate(477.95 360.40) scale(0.007324 -0.006982) translate(-400.5 -1028)'/>
<path d='M492 1135 727 1239 795 1042 545 981 731 768 547 647 401 899 252 647 66 770 256 981 6 1042 74 1239 313 1135 295 1409H510Z' transform='translate(477.90 424.30) scale(0.007324 -0.006982) translate(-400.5 -1028)'/>
<path d='M492 1135 727 1239 795 1042 545 981 731 768 547 647 401 899 252 647 66 770 256 981 6 1042 74 1239 313 1135 295 1409H510Z' transform='translate(522.50 359.30) scale(0.007324 -0.006982) translate(-400.5 -1028)'/>
<path d='M492 1135 727 1239 795 1042 545 981 731 768 547 647 401 899 252 647 66 770 256 981 6 1042 74 1239 313 1135 295 1409H510Z' transform='translate(523.80 425.00) scale(0.007324 -0.006982) translate(-400.5 -1028)'/>
<path d='M492 1135 727 1239 795 1042 545 981 731 768 547 647 401 899 252 647 66 770 256 981 6 1042 74 1239 313 1135 295 1409H510Z' transform='translate(568.10 351.45) scale(0.007324 -0.006982) translate(-400.5 -1028)'/>
<path d='M492 1135 727 1239 795 1042 545 981 731 768 547 647 401 899 252 647 66 770 256 981 6 1042 74 1239 313 1135 295 1409H510Z' transform='translate(568.70 422.00) scale(0.007324 -0.006982) translate(-400.5 -1028)'/>
<path d='M492 1135 727 1239 795 1042 545 981 731 768 547 647 401 899 252 647 66 770 256 981 6 1042 74 1239 313 1135 295 1409H510Z' transform='translate(614.35 356.45) scale(0.007324 -0.006982) translate(-400.5 -1028)'/>
<path d='M492 1135 727 1239 795 1042 545 981 731 768 547 647 401 899 252 647 66 770 256 981 6 1042 74 1239 313 1135 295 1409H510Z' transform='translate(614.35 423.45) scale(0.007324 -0.006982) translate(-400.5 -1028)'/>
<path d='M492 1135 727 1239 795 1042 545 981 731 768 547 647 401 899 252 647 66 770 256 981 6 1042 74 1239 313 1135 295 1409H510Z' transform='translate(659.30 357.30) scale(0.007324 -0.006982) translate(-400.5 -1028)'/>
<path d='M492 1135 727 1239 795 1042 545 981 731 768 547 647 401 899 252 647 66 770 256 981 6 1042 74 1239 313 1135 295 1409H510Z' transform='translate(659.25 419.20) scale(0.007324 -0.006982) translate(-400.5 -1028)'/>
<text x='84.30' y='506.10' font-size='10' text-anchor='start' >BL</text>
<text x='428.20' y='504.80' font-size='10' text-anchor='start' >BL</text>
<text x='118.60' y='519.70' font-size='10' text-anchor='start' transform='rotate(-30 118.60 519.70)' >Pre-clamp</text>
<text x='166.70' y='521.40' font-size='10' text-anchor='start' transform='rotate(-30 166.70 521.40)' >Post-clamp</text>
<text x='202.70' y='525.70' font-size='10' text-anchor='start' transform='rotate(-30 202.70 525.70)' >Pre-declamp</text>
<text x='247.60' y='526.90' font-size='10' text-anchor='start' transform='rotate(-30 247.60 526.90)' >Post-declamp</text>
<text x='305.30' y='519.50' font-size='10' text-anchor='start' transform='rotate(-30 305.30 519.50)' >Op end</text>
<text x='462.30' y='518.30' font-size='10' text-anchor='start' transform='rotate(-30 462.30 518.30)' >Pre-clamp</text>
<text x='510.30' y='520.00' font-size='10' text-anchor='start' transform='rotate(-30 510.30 520.00)' >Post-clamp</text>
<text x='546.10' y='524.90' font-size='10' text-anchor='start' transform='rotate(-30 546.10 524.90)' >Pre-declamp</text>
<text x='590.90' y='526.00' font-size='10' text-anchor='start' transform='rotate(-30 590.90 526.00)' >Post-declamp</text>
<text x='648.60' y='518.10' font-size='10' text-anchor='start' transform='rotate(-30 648.60 518.10)' >Op end</text>
<rect x='68.8' y='441.6' width='92.7' height='32.6' fill='#fff' stroke='#858585' stroke-width='1.05'/>
<line x1='71.20' y1='453.30' x2='94.50' y2='453.30' stroke='#3b2c96' stroke-width='1.4' stroke-linecap='butt'/>
<circle cx='83.3' cy='453.3' r='3.7' fill='#3b2c96'/>
<line x1='71.20' y1='464.20' x2='94.50' y2='464.20' stroke='#1fa862' stroke-width='1.4' stroke-linecap='butt'/>
<circle cx='83.3' cy='464.2' r='3.35' fill='#fff' stroke='#1fa862' stroke-width='1.3'/>
<text x='100.20' y='457.20' font-size='10' text-anchor='start' >Sevoflurane</text>
<text x='99.90' y='468.10' font-size='10' text-anchor='start' >Propofol</text>
</svg>
</body></html>
